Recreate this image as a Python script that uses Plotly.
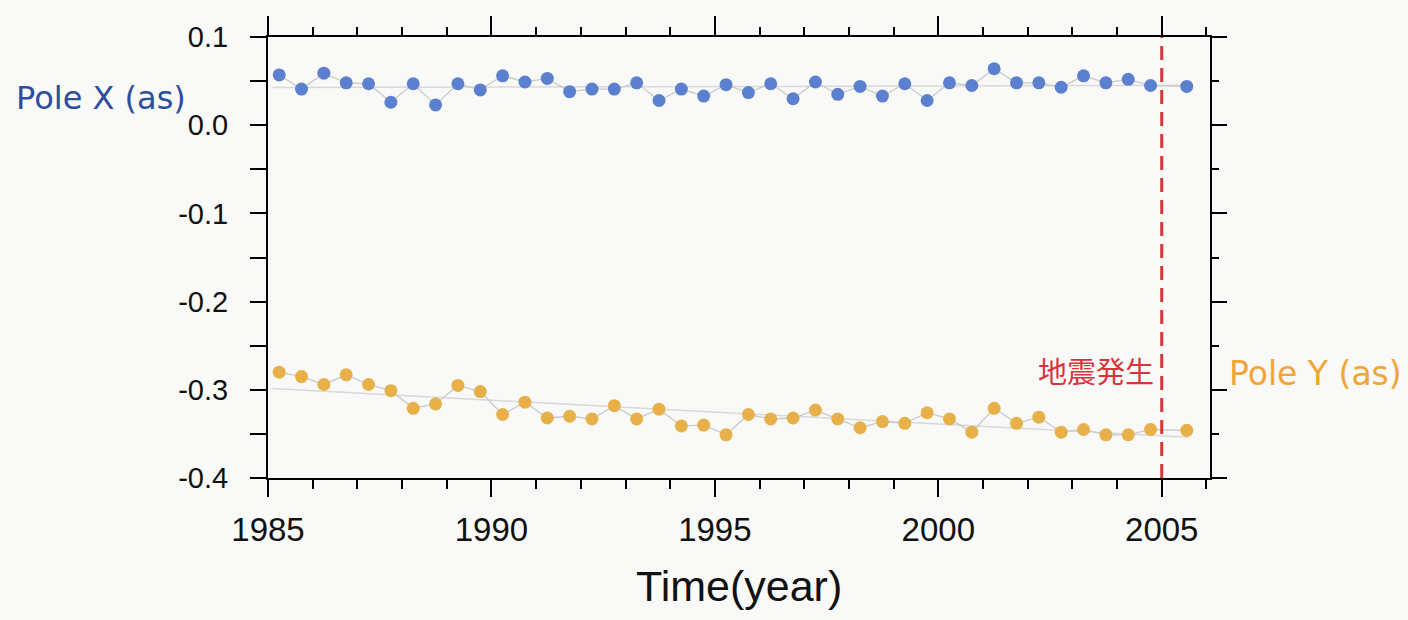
import numpy as np
import plotly.graph_objects as go

# ---- data ----
years = [1985.25 + 0.5 * i for i in range(40)] + [2005.56]

pole_x = [0.057, 0.041, 0.059, 0.048, 0.047, 0.026, 0.047, 0.023, 0.047, 0.040,
          0.056, 0.049, 0.053, 0.038, 0.041, 0.041, 0.048, 0.028, 0.041, 0.033,
          0.046, 0.037, 0.047, 0.030, 0.049, 0.035, 0.044, 0.033, 0.047, 0.028,
          0.048, 0.045, 0.064, 0.048, 0.048, 0.043, 0.056, 0.048, 0.052, 0.045,
          0.044]

pole_y = [-0.280, -0.285, -0.294, -0.283, -0.294, -0.301, -0.321, -0.316, -0.295, -0.302,
          -0.328, -0.314, -0.332, -0.330, -0.333, -0.318, -0.333, -0.322, -0.341, -0.340,
          -0.351, -0.328, -0.333, -0.332, -0.323, -0.333, -0.343, -0.336, -0.338, -0.326,
          -0.333, -0.348, -0.321, -0.338, -0.331, -0.348, -0.345, -0.351, -0.351, -0.345,
          -0.346]

x_tick_vals = [1985, 1990, 1995, 2000, 2005]
x_tick_text = ["1985", "1990", "1995", "2000", "2005"]
y_tick_vals = [0.1, 0.0, -0.1, -0.2, -0.3, -0.4]
y_tick_text = ["0.1", "0.0", "-0.1", "-0.2", "-0.3", "-0.4"]

quake_year = 2005
x_range = [1985, 2006.08]
y_range = [-0.4, 0.1]

# ---- styles ----
BLUE = "#5b80d0"
ORANGE = "#e8b048"
LINK = "#c9c9c9"
TREND = "#d9d9d9"
BG = "#f9f9f7"
SANS = "Liberation Sans, Arial, sans-serif"

fig = go.Figure()

trend_x = np.array([1985.1, 2005.6])
for vals in (pole_x, pole_y):
    k, b = np.polyfit(years, vals, 1)
    fig.add_trace(go.Scatter(x=trend_x, y=k * trend_x + b, mode="lines",
                             line=dict(color=TREND, width=1.5), hoverinfo="skip",
                             showlegend=False))

for vals, col in ((pole_x, BLUE), (pole_y, ORANGE)):
    fig.add_trace(go.Scatter(x=years, y=vals, mode="lines+markers",
                             line=dict(color=LINK, width=1.3),
                             marker=dict(color=col, size=13, line=dict(width=0)),
                             showlegend=False))

# dummy trace to make top/right axes exist
fig.add_trace(go.Scatter(x=[None], y=[None], xaxis="x2", yaxis="y2",
                         showlegend=False, hoverinfo="skip"))

# earthquake line
fig.add_shape(type="line", x0=quake_year, x1=quake_year, y0=y_range[0], y1=y_range[1],
              xref="x", yref="y", line=dict(color="#d8343c", width=3, dash="14px,8px"))

axis_common = dict(showline=True, linecolor="black", linewidth=2, showgrid=False,
                   zeroline=False, tickcolor="black", tickwidth=2)

fig.update_layout(
    width=1408, height=620,
    margin=dict(l=268, r=198, t=37, b=142),
    paper_bgcolor=BG, plot_bgcolor=BG,
    xaxis=dict(range=x_range, tickmode="array", tickvals=x_tick_vals, ticktext=x_tick_text,
               ticks="outside", ticklen=17, ticklabelstandoff=4,
               minor=dict(dtick=1, tick0=1985, ticks="outside", ticklen=9,
                          tickcolor="black", tickwidth=2),
               tickfont=dict(family=SANS, size=33, color="#111"), **axis_common),
    xaxis2=dict(range=x_range, overlaying="x", side="top", anchor="y",
                tickmode="linear", tick0=1985, dtick=5, ticks="outside", ticklen=19,
                showticklabels=False,
                minor=dict(dtick=1, tick0=1985, ticks="outside", ticklen=8,
                           tickcolor="black", tickwidth=2), **axis_common),
    yaxis=dict(range=y_range, tickmode="array", tickvals=y_tick_vals, ticktext=y_tick_text,
               ticks="outside", ticklen=16, ticklabelstandoff=16,
               minor=dict(dtick=0.05, tick0=0, ticks="outside", ticklen=16,
                          tickcolor="black", tickwidth=2),
               tickfont=dict(family=SANS, size=29, color="#111"), **axis_common),
    yaxis2=dict(range=y_range, overlaying="y", side="right", anchor="x",
                tickmode="linear", tick0=0, dtick=0.1, ticks="outside", ticklen=15,
                showticklabels=False,
                minor=dict(dtick=0.05, tick0=0, ticks="outside", ticklen=7,
                           tickcolor="black", tickwidth=2), **axis_common),
)

fig.add_annotation(text="Pole X (as)", xref="paper", yref="y", x=(14 - 268) / 942, y=0.031,
                   xanchor="left", yanchor="middle", showarrow=False,
                   font=dict(family="DejaVu Sans, sans-serif", size=32, color="#2b4f9e"))
fig.add_annotation(text="Pole Y (as)", xref="paper", yref="y", x=(1227 - 268) / 942, y=-0.281,
                   xanchor="left", yanchor="middle", showarrow=False,
                   font=dict(family="DejaVu Sans, sans-serif", size=33, color="#f0a536"))
fig.add_annotation(text="地震発生", xref="x", yref="y", x=2004.88, y=-0.277,
                   xanchor="right", yanchor="middle", showarrow=False,
                   font=dict(family="Noto Sans CJK JP, sans-serif", size=29, color="#d8343c"))
fig.add_annotation(text="Time(year)", xref="paper", yref="paper", x=0.5, y=-0.245,
                   xanchor="center", yanchor="middle", showarrow=False,
                   font=dict(family=SANS, size=43, color="#111"))

fig.write_html("out.html")
